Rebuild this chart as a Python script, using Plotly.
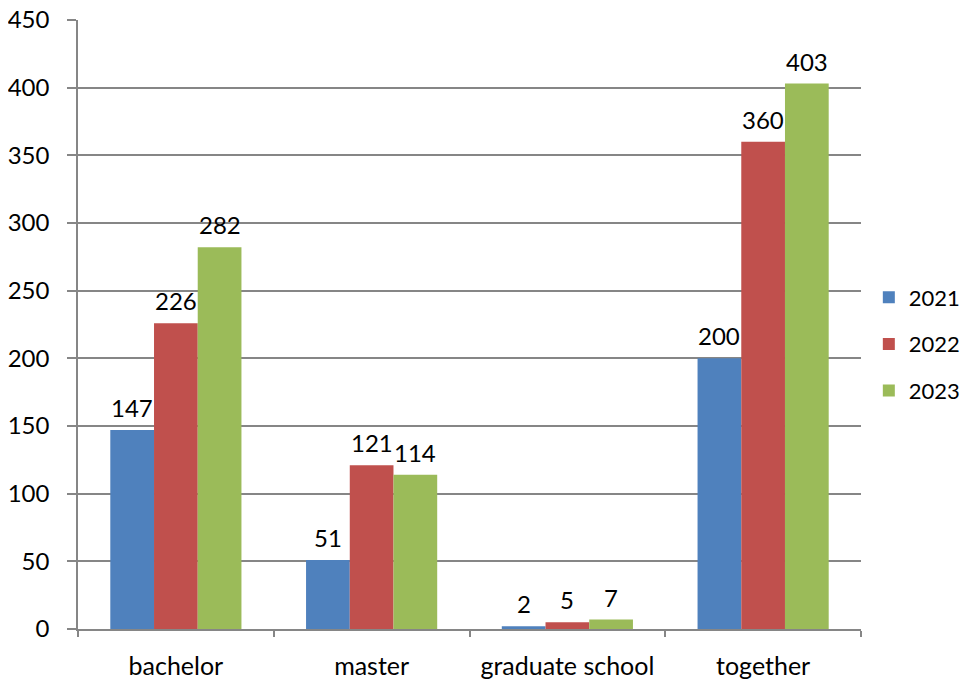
import plotly.graph_objects as go

categories = ["bachelor", "master", "graduate school", "together"]
years = ["2021", "2022", "2023"]
values_2021 = [147, 51, 2, 200]
values_2022 = [226, 121, 5, 360]
values_2023 = [282, 114, 7, 403]
colors = ["#4F81BD", "#C0504D", "#9BBB59"]

FONT = "Lato"
FS = 24
W, H = 965, 672
ML, MR, MT, MB = 70, 112, 12, 51
BARGAP = 0.33
series = [values_2021, values_2022, values_2023]

fig = go.Figure()
for i, (yr, vals) in enumerate(zip(years, series)):
    fig.add_trace(go.Bar(
        x=categories, y=vals, name=yr,
        marker=dict(color=colors[i], line=dict(width=0)),
        legendgroup=yr,
    ))

# value labels above each bar, offset within the group
plot_w = W - ML - MR
bar_w = plot_w / len(categories) * (1 - BARGAP) / len(series)
for i, vals in enumerate(series):
    for cat, v in zip(categories, vals):
        fig.add_annotation(
            x=cat, y=v, text=str(v), showarrow=False,
            xshift=(i - (len(series) - 1) / 2) * bar_w, yshift=6,
            yanchor="bottom", xanchor="center",
            font=dict(family=FONT, size=FS, color="black"),
        )

fig.update_layout(
    width=W, height=H,
    margin=dict(l=ML, r=MR, t=MT, b=MB, autoexpand=False),
    paper_bgcolor="white", plot_bgcolor="white",
    barmode="group", bargap=BARGAP, bargroupgap=0,
    font=dict(family=FONT, size=FS, color="black"),
    showlegend=True,
    legend=dict(x=1.010, y=0.468, xanchor="left", yanchor="middle",
                font=dict(family=FONT, size=22, color="black"),
                tracegroupgap=15, traceorder="grouped", borderwidth=0,
                itemwidth=30, bgcolor="rgba(0,0,0,0)"),
)
fig.update_yaxes(
    range=[0, 450], dtick=50, showgrid=True, gridcolor="#868686", gridwidth=1.5,
    showline=True, linecolor="#868686", linewidth=1.5,
    ticks="outside", ticklen=9, tickcolor="#868686", tickwidth=1.5,
    zeroline=False, automargin=False, ticklabelstandoff=13,
    ticklabeloverflow="allow",
    tickfont=dict(family=FONT, size=FS, color="black"),
)
fig.update_xaxes(
    showline=True, linecolor="#868686", linewidth=1.5,
    ticks="outside", ticklen=6, tickcolor="#868686", tickwidth=1.5,
    tickson="boundaries", ticklabelstandoff=14, automargin=False,
    ticklabeloverflow="allow",
    tickfont=dict(family=FONT, size=25, color="black"),
)
fig.write_html("out.html")
